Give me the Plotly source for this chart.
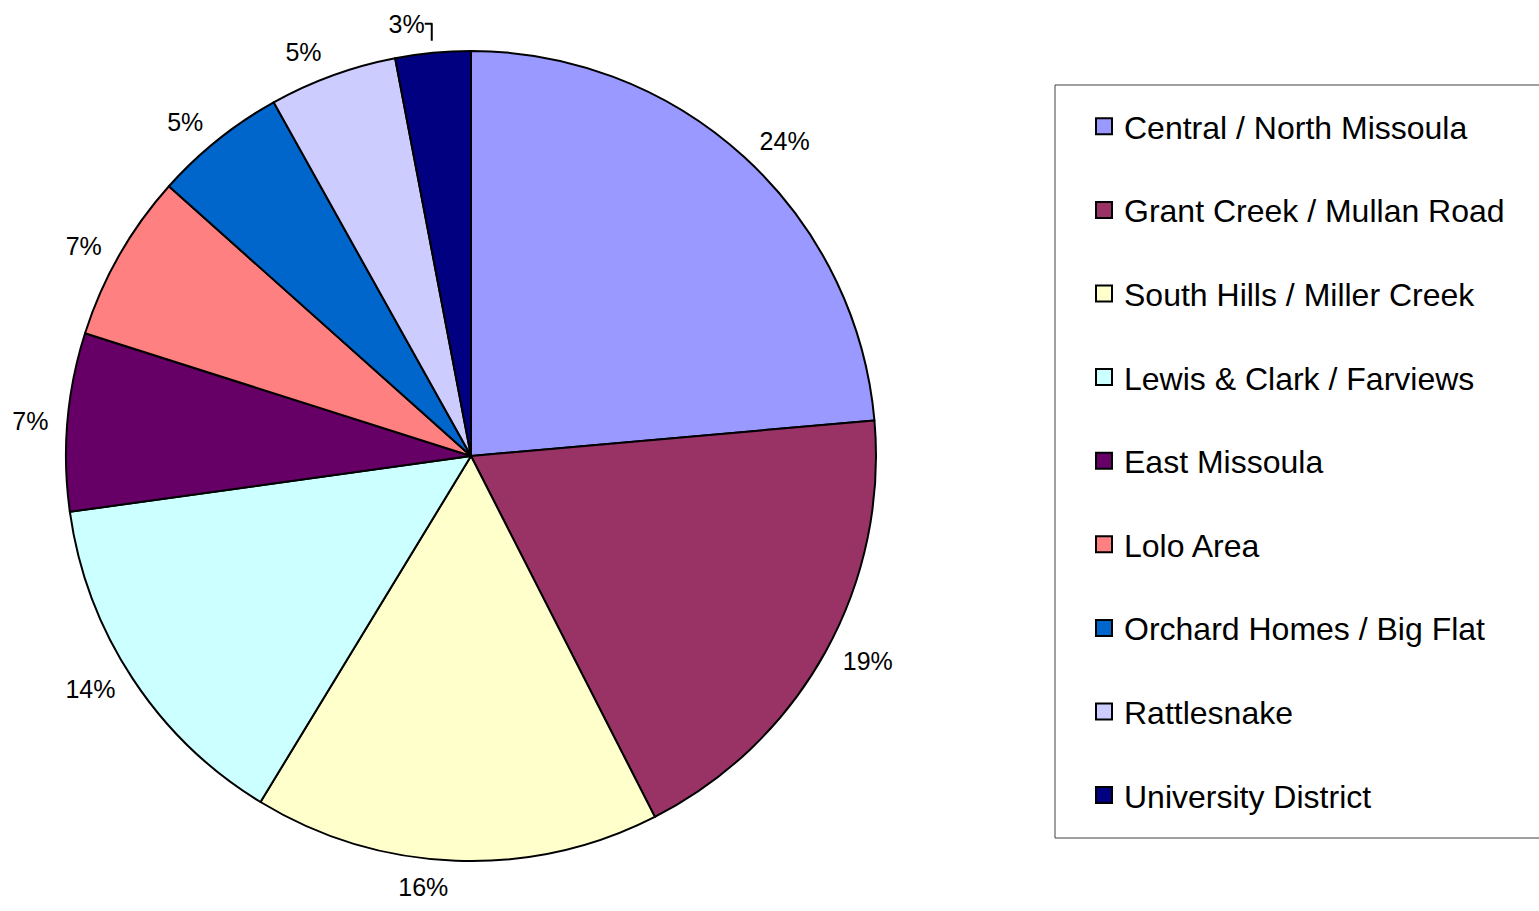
import plotly.graph_objects as go

categories = [
    "Central / North Missoula",
    "Grant Creek / Mullan Road",
    "South Hills / Miller Creek",
    "Lewis & Clark / Farviews",
    "East Missoula",
    "Lolo Area",
    "Orchard Homes / Big Flat",
    "Rattlesnake",
    "University District",
]
shares = [23.6, 18.9, 16.2, 14.1, 7.1, 6.7, 5.3, 5.1, 3.0]
colors = ["#9999FF", "#993366", "#FFFFCC", "#CCFFFF", "#660066",
          "#FF8080", "#0066CC", "#CCCCFF", "#000080"]

W, H = 1539, 911
FONT = "Liberation Sans, Arial, sans-serif"
CX, CY, R = 471, 456, 405   # pie centre / radius in px
RL = 417                    # radius used to place the outside labels

fig = go.Figure()
fig.add_trace(go.Pie(
    labels=categories,
    values=shares,
    sort=False,
    direction="clockwise",
    rotation=0,
    marker=dict(colors=colors, line=dict(color="black", width=2)),
    textinfo="none",
    showlegend=False,
    automargin=False,
    domain=dict(x=[(CX - R) / W, (CX + R) / W],
                y=[1 - (CY + R) / H, 1 - (CY - R) / H]),
    hoverinfo="label+percent",
))
# transparent twin pie, slightly larger, only to carry the percentage labels
fig.add_trace(go.Pie(
    labels=categories,
    values=shares,
    sort=False,
    direction="clockwise",
    rotation=0,
    marker=dict(colors=["rgba(0,0,0,0)"] * len(categories),
                line=dict(width=0)),
    textposition="outside",
    texttemplate="%{percent:.0%}",
    textfont=dict(family=FONT, size=25, color="black"),
    showlegend=False,
    automargin=False,
    domain=dict(x=[(CX - RL) / W, (CX + RL) / W],
                y=[1 - (CY + RL) / H, 1 - (CY - RL) / H]),
    hoverinfo="skip",
))

for i, (name, col) in enumerate(zip(categories, colors)):
    fig.add_trace(go.Scatter(
        x=[None], y=[None], mode="markers", name=name,
        legendgroup=f"g{i}",
        marker=dict(symbol="square", size=20, color=col,
                    line=dict(color="black", width=2)),
    ))

fig.add_shape(type="rect", xref="paper", yref="paper",
              x0=1055 / W, x1=1560 / W, y0=1 - 838 / H, y1=1 - 85 / H,
              line=dict(color="#404040", width=1), fillcolor="rgba(0,0,0,0)",
              layer="below")

fig.update_layout(
    width=W, height=H,
    margin=dict(l=0, r=0, t=0, b=0, autoexpand=False),
    paper_bgcolor="white", plot_bgcolor="white",
    xaxis=dict(visible=False), yaxis=dict(visible=False),
    legend=dict(
        x=1084 / W, y=1 - 99 / H, xanchor="left", yanchor="top",
        font=dict(family=FONT, size=32, color="black"),
        tracegroupgap=39, borderwidth=0, bgcolor="rgba(0,0,0,0)",
        traceorder="grouped",
    ),
)

fig.write_html("out.html", config={"displayModeBar": False},
               post_script="document.body.style.margin='0px';")
